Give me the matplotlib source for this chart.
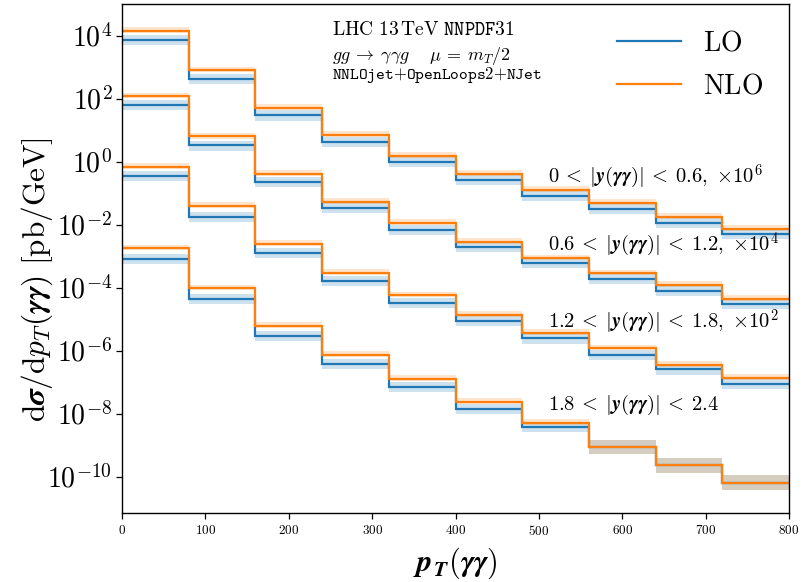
import numpy as np
import matplotlib
matplotlib.use('Agg')
import matplotlib.pyplot as plt
from matplotlib.lines import Line2D
from matplotlib.ticker import FixedLocator, FuncFormatter, NullLocator
from matplotlib.mathtext import MathTextParser

plt.rcParams['mathtext.fontset'] = 'cm'
plt.rcParams['font.family'] = 'serif'
plt.rcParams['font.serif'] = ['cmr10', 'DejaVu Serif']
plt.rcParams['axes.unicode_minus'] = False

# ---------------- data ----------------
pt_edges = [0, 80, 160, 240, 320, 400, 480, 560, 640, 720, 800]

scale_factors = [1e6, 1e4, 1e2, 1]

lo_y1 = [7.41e-3, 4.17e-4, 2.90e-5, 4.23e-6, 9.44e-7, 2.56e-7, 8.11e-8, 3.06e-8, 1.15e-8, 4.92e-9]
nlo_y1 = [1.43e-2, 7.82e-4, 4.99e-5, 7.06e-6, 1.55e-6, 4.06e-7, 1.26e-7, 4.75e-8, 1.78e-8, 7.10e-9]

lo_y2 = [6.21e-3, 3.23e-4, 2.26e-5, 3.30e-6, 6.73e-7, 1.98e-7, 5.87e-8, 1.91e-8, 7.74e-9, 3.05e-9]
nlo_y2 = [1.17e-2, 6.24e-4, 4.06e-5, 5.35e-6, 1.15e-6, 2.86e-7, 8.47e-8, 2.82e-8, 1.20e-8, 4.41e-9]

lo_y3 = [3.59e-3, 1.78e-4, 1.22e-5, 1.64e-6, 3.29e-7, 8.79e-8, 2.43e-8, 7.14e-9, 2.51e-9, 9.0e-10]
nlo_y3 = [6.93e-3, 3.90e-4, 2.37e-5, 2.96e-6, 5.65e-7, 1.34e-7, 3.66e-8, 1.17e-8, 3.61e-9, 1.36e-9]

lo_y4 = [8.24e-4, 4.31e-5, 2.93e-6, 3.89e-7, 7.02e-8, 1.44e-8, 3.75e-9, 9.0e-10, 2.32e-10, 6.21e-11]
nlo_y4 = [1.76e-3, 9.44e-5, 5.97e-6, 7.14e-7, 1.26e-7, 2.34e-8, 5.02e-9, 9.0e-10, 2.32e-10, 6.21e-11]

# scale-variation envelopes (multiplicative factors, per bin)
lo_up = [1.44, 1.44, 1.44, 1.44, 1.44, 1.44, 1.44, 1.44, 1.44, 1.44]
lo_dn = [0.69, 0.69, 0.69, 0.69, 0.69, 0.69, 0.69, 0.69, 0.69, 0.69]
nlo_up = [1.32, 1.32, 1.32, 1.32, 1.32, 1.32, 1.32, 1.32, 1.32, 1.32]
nlo_dn = [0.86, 0.86, 0.86, 0.86, 0.86, 0.86, 0.86, 0.86, 0.86, 0.86]
lo_up4 = [1.44, 1.44, 1.44, 1.44, 1.44, 1.44, 1.44, 1.60, 1.73, 1.76]
lo_dn4 = [0.69, 0.69, 0.69, 0.69, 0.69, 0.69, 0.69, 0.57, 0.58, 0.59]
nlo_up4 = [1.32, 1.32, 1.32, 1.32, 1.32, 1.32, 1.32, 1.60, 1.73, 1.76]
nlo_dn4 = [0.86, 0.86, 0.86, 0.86, 0.86, 0.86, 0.86, 0.57, 0.58, 0.59]

rap_labels = [r'0\:<\:|{Y}({G})|\:<\:0.6,\ {\times}10^6',
              r'0.6\:<\:|{Y}({G})|\:<\:1.2,\ {\times}10^4',
              r'1.2\:<\:|{Y}({G})|\:<\:1.8,\ {\times}10^2',
              r'1.8\:<\:|{Y}({G})|\:<\:2.4']

x_ticks = [0, 100, 200, 300, 400, 500, 600, 700, 800]
y_ticks = [1e-10, 1e-8, 1e-6, 1e-4, 1e-2, 1e0, 1e2, 1e4]

# ---------------- helpers ----------------
try:
    MathTextParser('agg').parse(r'$\boldsymbol{y}$', dpi=100)
    HAS_BS = True
except Exception:
    HAS_BS = False

def bs(s):
    return r'\boldsymbol{%s}' % s if HAS_BS else s

C0 = '#1f77b4'
C1 = '#ff7f0e'

W, H = 805, 582
fig = plt.figure(figsize=(W / 100, H / 100), dpi=100)
ax = fig.add_axes([122 / W, 1 - 513 / H, (789 - 122) / W, (513 - 4) / H])

edges = np.array(pt_edges, dtype=float)
series = [(lo_y1, nlo_y1, lo_up, lo_dn, nlo_up, nlo_dn),
          (lo_y2, nlo_y2, lo_up, lo_dn, nlo_up, nlo_dn),
          (lo_y3, nlo_y3, lo_up, lo_dn, nlo_up, nlo_dn),
          (lo_y4, nlo_y4, lo_up4, lo_dn4, nlo_up4, nlo_dn4)]

for (lo, nlo, lu, ld, nu, nd), sf in zip(series, scale_factors):
    lo = np.array(lo) * sf
    nlo = np.array(nlo) * sf
    ax.stairs(lo * np.array(lu), edges, baseline=lo * np.array(ld), fill=True,
              color=C0, alpha=0.22, lw=0)
    ax.stairs(nlo * np.array(nu), edges, baseline=nlo * np.array(nd), fill=True,
              color=C1, alpha=0.2, lw=0)
    ax.stairs(lo, edges, baseline=None, color=C0, lw=1.6)
    ax.stairs(nlo, edges, baseline=None, color=C1, lw=1.6)

ax.set_yscale('log')
ax.set_xlim(0, 800)
ax.set_ylim(7e-12, 1e5)

ax.xaxis.set_major_locator(FixedLocator(x_ticks))
ax.xaxis.set_major_formatter(FuncFormatter(lambda v, p: r'$%d$' % v))
ax.yaxis.set_major_locator(FixedLocator(y_ticks))
ax.yaxis.set_minor_locator(NullLocator())
ax.yaxis.set_major_formatter(FuncFormatter(lambda v, p: r'$10^{%d}$' % round(np.log10(v))))
ax.tick_params(axis='x', labelsize=9.5, length=4, width=0.9, pad=4)
ax.tick_params(axis='y', labelsize=20, length=4, width=0.9, pad=3)
for s in ax.spines.values():
    s.set_linewidth(1.0)

ax.set_ylabel(r'$\mathrm{d}' + bs(r'\sigma') + r'/\mathrm{d}' + bs(r'p_T') + '(' + bs(r'\gamma\gamma') +
              r')\ [\mathrm{pb/GeV}]$', fontsize=22.5)
ax.yaxis.set_label_coords((55 - 122) / 667, (513 - 280) / 509)
ax.set_xlabel(r'$' + bs(r'p') + r'_{' + bs('T') + '}(' + bs(r'\gamma\gamma') + ')$',
              fontsize=22, labelpad=5)

# rapidity labels
lab_px_y = [177, 245, 322, 405]
for lab, py in zip(rap_labels, lab_px_y):
    txt = '$' + lab.replace('{Y}', bs('y')).replace('{G}', bs(r'\gamma\gamma')) + '$'
    fig.text(548 / W, 1 - py / H, txt, fontsize=14.8, ha='left', va='center')

# header texts
fig.text(332 / W, 1 - 30 / H, r'$\mathrm{LHC\ 13\,TeV}\ \mathtt{NNPDF31}$', fontsize=14,
         ha='left', va='center')
fig.text(332 / W, 1 - 56 / H, r'$gg\:\to\:\gamma\gamma g\quad\ \mu\:=\:m_T/2$', fontsize=13,
         ha='left', va='center')
fig.text(332 / W, 1 - 75 / H, r'$\mathtt{NNLOjet{+}OpenLoops2{+}NJet}$', fontsize=12,
         ha='left', va='center')

handles = [Line2D([], [], color=C0, lw=1.6), Line2D([], [], color=C1, lw=1.6)]
fig.legend(handles, [r'$\mathrm{LO}$', r'$\mathrm{NLO}$'], loc='upper left',
           bbox_to_anchor=(617 / W, 1 - 30 / H), frameon=False, fontsize=20,
           handlelength=2.3, handletextpad=0.8, labelspacing=0.6, borderpad=0,
           borderaxespad=0)

fig.savefig('out.png', dpi=100)
